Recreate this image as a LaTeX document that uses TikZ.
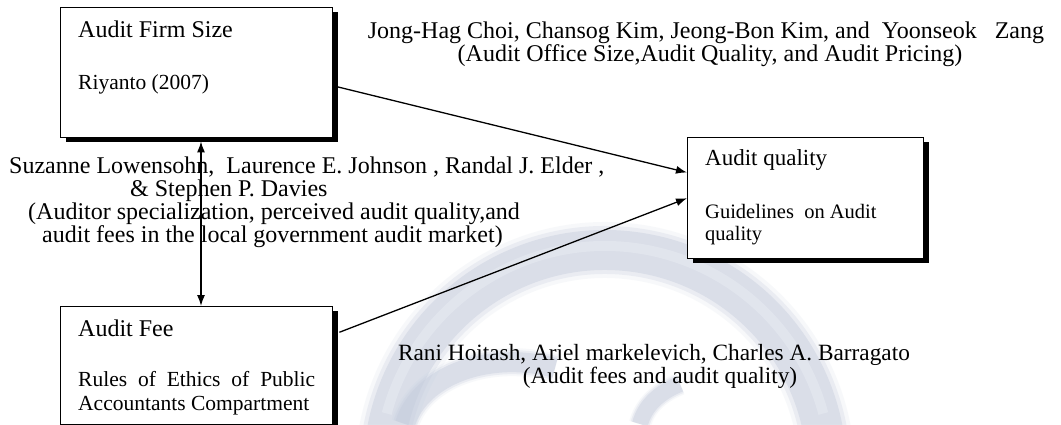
\documentclass[tikz,border=0pt]{standalone}
\usepackage{fontspec}
\setmainfont{Liberation Serif}
\usetikzlibrary{calc,arrows.meta,shadows}
\definecolor{swirl}{RGB}{196,204,220}
\definecolor{swirllight}{RGB}{232,236,243}
\begin{document}
\begin{tikzpicture}[x=1pt,y=-1pt,
  varbox/.style={draw=black,line width=1.4pt,fill=white,rectangle,inner sep=0pt,
    anchor=north west,
    drop shadow={shadow xshift=5pt,shadow yshift=-4pt,fill=black,opacity=1}},
  title/.style={anchor=base west,inner sep=0pt,font=\fontsize{24}{28}\selectfont},
  sub/.style={anchor=base west,inner sep=0pt,font=\fontsize{21.5}{24}\selectfont},
  cite/.style={anchor=base west,inner sep=0pt,font=\fontsize{24}{28}\selectfont},
  citec/.style={anchor=base,inner sep=0pt,font=\fontsize{24}{28}\selectfont},
  link/.style={line width=1.3pt,-{Latex[length=11pt,width=8pt]}},
  both/.style={line width=1.3pt,{Latex[length=11pt,width=8pt]}-{Latex[length=11pt,width=8pt]}}]
\useasboundingbox (0,0) rectangle (1061,424);
\fill[white] (0,0) rectangle (1061,424);

% faint swirl logo in the background
\begin{scope}
  \clip (0,0) rectangle (1061,424);
  \foreach \w/\o in {56/0.12,48/0.25,40/0.42}{
    \draw[swirl,line width=\w pt,opacity=\o]
      (605,472) ++(190:222) arc[start angle=190,end angle=352,radius=222];
    \draw[swirl,line width=0.5*\w pt,opacity=\o]
      (405,424) .. controls (420,375) and (490,350) .. (555,368);
    \draw[swirl,line width=0.4*\w pt,opacity=\o]
      (640,424) .. controls (645,405) and (660,392) .. (680,384);
  }
  \draw[swirllight,line width=10pt,opacity=0.5]
    (605,472) ++(195:226) arc[start angle=195,end angle=345,radius=226];
\end{scope}

% boxes
\node[varbox,minimum width=272pt,minimum height=130pt] (firm) at (60,7) {};
\node[varbox,minimum width=236pt,minimum height=121pt] (qual) at (687,137) {};
\node[varbox,minimum width=272pt,minimum height=118pt] (fee) at (60,306) {};

% box texts
\node[title] (firmT) at ($(firm.north west)+(18,30)$) {Audit Firm Size};
\node[sub] (firmS) at ($(firm.north west)+(18,82)$) {Riyanto (2007)};
\node[title,font=\fontsize{23}{26}\selectfont] (qualT) at ($(qual.north west)+(18,28)$) {Audit quality};
\node[sub,font=\fontsize{20.5}{22}\selectfont] (qualS1) at ($(qual.north west)+(18,81)$) {Guidelines\ \ on Audit};
\node[sub,font=\fontsize{20.5}{22}\selectfont] (qualS2) at ($(qual.north west)+(18,103)$) {quality};
\node[title] (feeT) at ($(fee.north west)+(18,30)$) {Audit Fee};
\node[sub] (feeS1) at ($(fee.north west)+(18,80)$) {\makebox[237pt][s]{Rules of Ethics of Public}};
\node[sub] (feeS2) at ($(fee.north west)+(18,104)$) {Accountants Compartment};

% citations
\node[citec] (c1a) at (706,38.5) {Jong-Hag Choi, Chansog Kim, Jeong-Bon Kim, and\ \ Yoonseok\ \ \ Zang};
\node[citec] (c1b) at (710,61.5) {(Audit Office Size,Audit Quality, and Audit Pricing)};
\node[cite] (c2a) at (9,173) {Suzanne Lowensohn,\ \ Laurence E. Johnson , Randal J. Elder ,};
\node[cite] (c2b) at (130,196) {\& Stephen P. Davies};
\node[cite] (c2c) at (28,219) {(Auditor specialization, perceived audit quality,and};
\node[cite] (c2d) at (42,242) {audit fees in the local government audit market)};
\node[citec,font=\fontsize{23.3}{28}\selectfont] (c3a) at (654,360) {Rani Hoitash, Ariel markelevich, Charles A. Barragato};
\node[citec,font=\fontsize{23.3}{28}\selectfont] (c3b) at (660,383) {(Audit fees and audit quality)};

% connectors
\draw[link] ($(firm.north east)!0.6!(firm.south east)$) -- ($(qual.north west)!0.29!(qual.south west)$);
\draw[link] ($(fee.north east)!0.22!(fee.south east)+(6,0)$) -- (qual.west);
\draw[both] ($(firm.south west)+(141,3)$) -- ($(fee.north west)+(141,0)$);
\end{tikzpicture}
\end{document}
